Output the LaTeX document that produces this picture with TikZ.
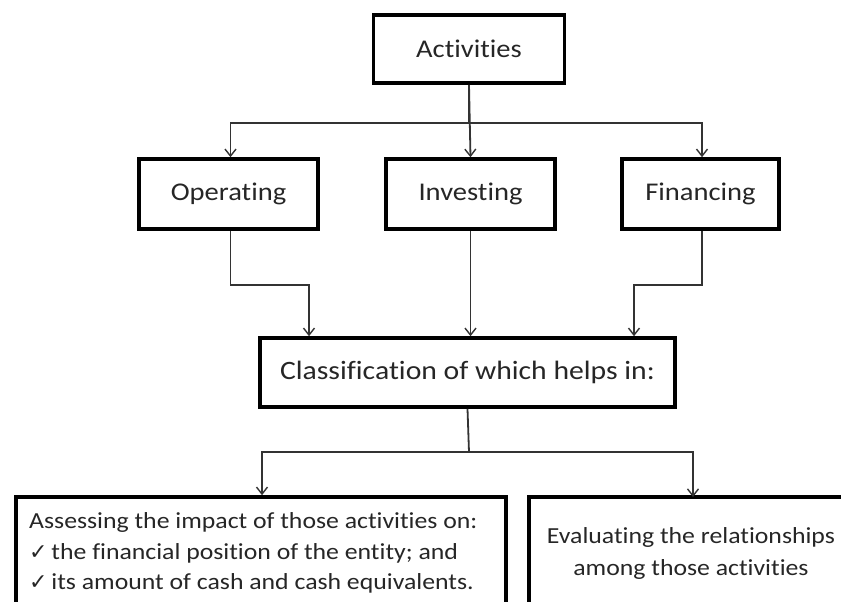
\documentclass[tikz,border=0pt]{standalone}
\usepackage{fontspec}
\setmainfont{Carlito}[FakeStretch=1.12,RawFeature={-liga}]
\newfontfamily\symfont{DejaVu Sans}
\usetikzlibrary{arrows.meta,calc}
\begin{document}
\begin{tikzpicture}[x=1pt,y=-1pt,
  box/.style={draw=black,line width=3.6pt,rectangle,inner sep=0pt},
  conn/.style={draw=black!80,line width=1.8pt,-{Straight Barb[length=7pt,width=11pt,line width=1.4pt]}},
  wire/.style={draw=black!80,line width=1.8pt},
  lbl/.style={font=\fontsize{25.5}{30}\selectfont,text=black!85},
  tick/.style={},
]
\newcommand\tickmark{{\symfont\fontsize{22}{30.5}\selectfont ✓}}
\useasboundingbox (0,0) rectangle (841,602);
\clip (0,0) rectangle (841,602);

% top level
\node[box,minimum width=191pt,minimum height=68pt,lbl] (act) at (469,49) {Activities};

% the three activity classes
\node[box,minimum width=179pt,minimum height=70pt,lbl] (op)  at (228.5,194) {Operating};
\node[box,minimum width=169pt,minimum height=70pt,lbl] (inv) at (470.5,194) {Investing};
\node[box,minimum width=157pt,minimum height=70pt,lbl] (fin) at (700.5,194) {Financing};

% classification box
\node[box,minimum width=415pt,minimum height=69pt,font=\fontsize{26.5}{32}\selectfont,text=black!85] (cls) at (467.5,372.5) {Classification of which helps in:};

% bottom boxes (run past the lower edge)
\node[box,minimum width=490pt,minimum height=160pt] (assess) at (261,577) {};
\node[box,minimum width=360pt,minimum height=160pt] (eval) at (709,577) {};

\node[anchor=west,align=left,inner sep=0pt,font=\fontsize{23}{30.5}\selectfont,text=black!85] (assesstxt) at (29,553)
  {Assessing the impact of those activities on:\\
   \tickmark\,the financial position of the entity; and\\
   \tickmark\,its amount of cash and cash equivalents.};
\node[align=center,inner sep=0pt,font=\fontsize{23}{32}\selectfont,text=black!85] (evaltxt) at (691,553)
  {Evaluating the relationships\\among those activities};

% branch points
\coordinate (split1) at (469,123);
\coordinate (split2) at (469,452);
\coordinate (jop) at (309,285);
\coordinate (jfin) at (634,285);

% activities to classes
\draw[wire] (act.south) -- (split1);
\draw[conn] (split1) -| ([xshift=2pt]op.north);
\draw[conn] (act.south) -- (inv.north);
\draw[conn] (split1) -| ([xshift=1.5pt]fin.north);

% classes to classification
\draw[conn] ([xshift=2pt]op.south) |- (jop) -- (jop |- cls.north);
\draw[conn] (inv.south) -- (inv.south |- cls.north);
\draw[conn] ([xshift=1.5pt]fin.south) |- (jfin) -- (jfin |- cls.north);

% classification to bottom boxes
\draw[wire] (cls.south) -- (split2);
\draw[conn] (split2) -| ([xshift=1pt]assess.north);
\draw[conn] (split2) -| (693,497);
\end{tikzpicture}
\end{document}
